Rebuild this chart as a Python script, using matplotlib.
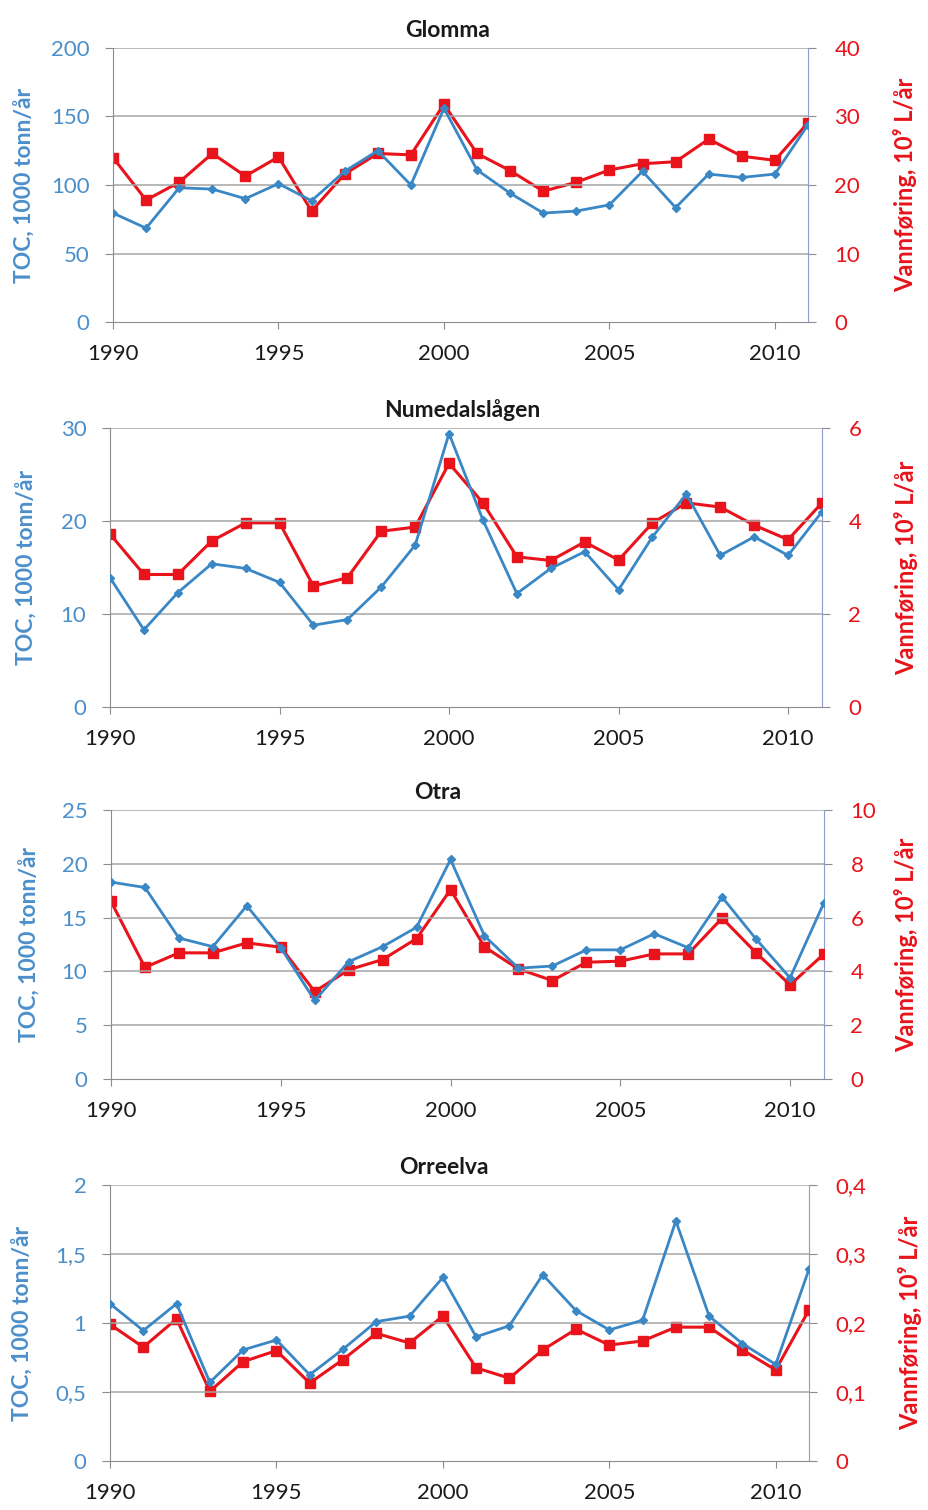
import numpy as np
import matplotlib
matplotlib.use("Agg")
import matplotlib.pyplot as plt

plt.rcParams['font.family'] = ['Lato', 'DejaVu Sans']

years = np.arange(1990, 2012)

# Glomma
glomma_toc = [79.5, 68.5, 98, 97, 90, 101, 88.5, 110, 125, 100, 156, 111, 94, 79.5, 81, 85.5,
              110, 83.5, 108, 105.5, 108, 144]
glomma_q = [24.0, 17.8, 20.4, 24.6, 21.3, 24.1, 16.2, 21.6, 24.6, 24.4, 31.8, 24.6, 22.1, 19.1,
            20.4, 22.2, 23.1, 23.4, 26.7, 24.2, 23.6, 29.1]
# Numedalslågen
numedal_toc = [13.9, 8.3, 12.3, 15.4, 14.9, 13.4, 8.8, 9.4, 12.9, 17.4, 29.4, 20.1, 12.2, 14.9,
               16.7, 12.6, 18.3, 22.9, 16.3, 18.3, 16.3, 21.0]
numedal_q = [3.72, 2.85, 2.85, 3.57, 3.96, 3.96, 2.6, 2.78, 3.78, 3.87, 5.24, 4.39, 3.23, 3.15,
             3.55, 3.16, 3.96, 4.39, 4.30, 3.91, 3.6, 4.39]
# Otra
otra_toc = [18.3, 17.8, 13.1, 12.3, 16.1, 12.2, 7.3, 10.9, 12.3, 14.1, 20.4, 13.3, 10.3, 10.5,
            12.0, 12.0, 13.5, 12.2, 16.9, 13.0, 9.4, 16.4]
otra_q = [6.6, 4.15, 4.69, 4.69, 5.06, 4.9, 3.25, 4.06, 4.44, 5.22, 7.04, 4.91, 4.09, 3.66,
          4.34, 4.38, 4.65, 4.65, 5.98, 4.69, 3.5, 4.65]
# Orreelva
orre_toc = [1.14, 0.945, 1.14, 0.57, 0.805, 0.877, 0.625, 0.81, 1.01, 1.05, 1.33, 0.9, 0.98, 1.35,
            1.09, 0.95, 1.02, 1.74, 1.05, 0.85, 0.70, 1.39]
orre_q = [0.198, 0.165, 0.206, 0.101, 0.144, 0.16, 0.113, 0.147, 0.185, 0.171, 0.21, 0.135,
          0.12, 0.161, 0.191, 0.168, 0.174, 0.194, 0.194, 0.161, 0.132, 0.219]

titles = ["Glomma", "Numedalslågen", "Otra", "Orreelva"]
toc_series = [glomma_toc, numedal_toc, otra_toc, orre_toc]
q_series = [glomma_q, numedal_q, otra_q, orre_q]
left_ticks = [[0, 50, 100, 150, 200], [0, 10, 20, 30], [0, 5, 10, 15, 20, 25], [0, 0.5, 1, 1.5, 2]]
left_labels = [["0", "50", "100", "150", "200"], ["0", "10", "20", "30"],
               ["0", "5", "10", "15", "20", "25"], ["0", "0,5", "1", "1,5", "2"]]
right_ticks = [[0, 10, 20, 30, 40], [0, 2, 4, 6], [0, 2, 4, 6, 8, 10], [0, 0.1, 0.2, 0.3, 0.4]]
right_labels = [["0", "10", "20", "30", "40"], ["0", "2", "4", "6"],
                ["0", "2", "4", "6", "8", "10"], ["0", "0,1", "0,2", "0,3", "0,4"]]
year_ticks = [1990, 1995, 2000, 2005, 2010]

W, H = 929, 1510
# axes boxes in pixels: left, right, top, bottom
boxes_px = [(113, 808, 48, 322),
            (110, 822, 428, 707),
            (111, 824, 810, 1079),
            (110, 809, 1185, 1461)]
left_lab_x = [25, 27, 30, 23]
right_lab_x = [905, 906, 906, 910]
title_x = [448, 462, 438, 444]

blue_line = '#3a87c6'
blue_txt = '#4b8fca'
red = '#e8131b'
grid_c = '#a6a6a6'

fig = plt.figure(figsize=(W / 100, H / 100), dpi=100)

for i in range(4):
    l, r, t, b = boxes_px[i]
    ax = fig.add_axes([l / W, 1 - b / H, (r - l) / W, (b - t) / H])
    ax2 = ax.twinx()
    ax.set_zorder(ax2.get_zorder() + 1)
    ax.patch.set_visible(False)

    ax2.plot(years, q_series[i], color=red, lw=2.2, marker='s', ms=6.5, zorder=3)
    ax.plot(years, toc_series[i], color=blue_line, lw=2.0, marker='D', ms=4.5, zorder=4)

    ax.set_xlim(1990, 2011)
    ax.set_ylim(left_ticks[i][0], left_ticks[i][-1])
    ax2.set_ylim(right_ticks[i][0], right_ticks[i][-1])
    ax.set_yticks(left_ticks[i])
    ax.set_yticklabels(left_labels[i])
    ax2.set_yticks(right_ticks[i])
    ax2.set_yticklabels(right_labels[i])
    ax.set_xticks(year_ticks)

    ax2.grid(False)
    for tk in left_ticks[i][1:]:
        ax.axhline(tk, color=grid_c, lw=1.1, zorder=0)

    for a in (ax, ax2):
        a.spines['top'].set_visible(False)
    ax.spines['left'].set_color('#8c8c8c')
    ax.spines['bottom'].set_color('#8c8c8c')
    ax.spines['right'].set_visible(False)
    ax2.spines['left'].set_visible(False)
    ax2.spines['bottom'].set_visible(False)
    ax2.spines['right'].set_color('#8e9ccc')

    ax.tick_params(axis='y', colors='#8c8c8c', labelcolor=blue_txt, labelsize=16,
                   length=6, direction='out', pad=11)
    ax.tick_params(axis='x', colors='#8c8c8c', labelcolor='#1a1a1a', labelsize=16,
                   length=5, direction='out', pad=11)
    ax2.tick_params(axis='y', colors='#8c8c8c', labelcolor=red, labelsize=16,
                    length=6, direction='out', pad=13)

    yc = 1 - (t + b) / 2 / H
    ax.set_ylabel("TOC, 1000 tonn/år", color=blue_txt, fontsize=16.5, fontweight='bold',
                  va='center')
    ax.yaxis.set_label_coords(left_lab_x[i] / W, yc, transform=fig.transFigure)
    ax2.set_ylabel("Vannføring, 10⁹ L/år", color=red, fontsize=17, fontweight='bold',
                   va='center')
    ax2.yaxis.set_label_coords(right_lab_x[i] / W, yc, transform=fig.transFigure)
    ax.set_title(titles[i], fontsize=16.5, fontweight='bold', color='#1a1a1a', pad=8,
                 x=(title_x[i] - l) / (r - l))

fig.savefig("out.png", dpi=100)
